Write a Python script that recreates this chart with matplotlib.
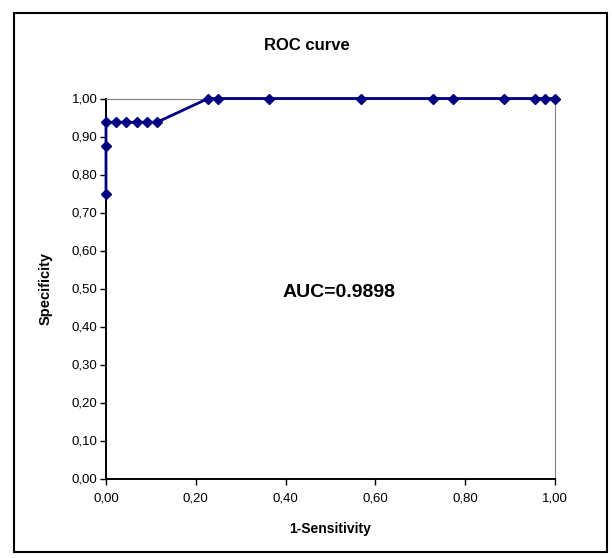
import matplotlib
matplotlib.use("Agg")
import matplotlib.pyplot as plt
from matplotlib.patches import Rectangle

plt.rcParams['font.family'] = ['Liberation Sans', 'DejaVu Sans']

fpr = [0.0, 0.0, 0.0, 0.0227, 0.0455, 0.0682, 0.0909, 0.1136, 0.2273, 0.25,
       0.3636, 0.5682, 0.7273, 0.7727, 0.8864, 0.9545, 0.9773, 1.0]
spec = [0.75, 0.875, 0.9375, 0.9375, 0.9375, 0.9375, 0.9375, 0.9375, 1.0, 1.0,
        1.0, 1.0, 1.0, 1.0, 1.0, 1.0, 1.0, 1.0]
ticks = [0.0, 0.1, 0.2, 0.3, 0.4, 0.5, 0.6, 0.7, 0.8, 0.9, 1.0]
xticks = [0.0, 0.2, 0.4, 0.6, 0.8, 1.0]
title = "ROC curve"
xlabel = "1-Sensitivity"
ylabel = "Specificity"
auc_text = "AUC=0.9898"

W, H = 612, 558
fig = plt.figure(figsize=(W / 100, H / 100), dpi=100)

# outer chart border
bl, bt, br, bb = 14, 13, 607, 552
fig.patches.append(Rectangle((bl / W, 1 - bb / H), (br - bl) / W, (bb - bt) / H,
                             transform=fig.transFigure, fill=False,
                             edgecolor='black', linewidth=1.5))

x0, x1 = 106, 555
y0, y1 = 478.5, 98.5
ax = fig.add_axes([x0 / W, (H - y0) / H, (x1 - x0) / W, (y0 - y1) / H])

ax.plot(fpr, spec, color='#000080', linewidth=2.0, marker='D', markersize=5.5,
        markerfacecolor='#000080', markeredgecolor='#000080', clip_on=False, zorder=5)

ax.set_xlim(0, 1)
ax.set_ylim(0, 1)
ax.set_xticks(xticks)
ax.set_yticks(ticks)
ax.set_xticklabels([f"{t:.2f}".replace('.', ',') for t in xticks], fontsize=9.5)
ax.set_yticklabels([f"{t:.2f}".replace('.', ',') for t in ticks], fontsize=9.5)
ax.tick_params(axis='y', direction='out', length=4, width=1, color='black', pad=2)
ax.tick_params(axis='x', direction='out', length=4, width=1, color='black', pad=6)

for s in ['left', 'bottom']:
    ax.spines[s].set_color('black')
    ax.spines[s].set_linewidth(1.4)
for s in ['top', 'right']:
    ax.spines[s].set_color('#808080')
    ax.spines[s].set_linewidth(0.8)

ax.set_xlabel(xlabel, fontsize=10, fontweight='bold', labelpad=13)
ax.set_ylabel(ylabel, fontsize=10.5, fontweight='bold', labelpad=14)

fig.text(307 / W, 1 - 45 / H, title, ha='center', va='center', fontsize=12, fontweight='bold')
ax.text(0.52, 0.49, auc_text, ha='center', va='center', fontsize=14, fontweight='bold',
        transform=ax.transData)

fig.savefig("out.png", dpi=100)
